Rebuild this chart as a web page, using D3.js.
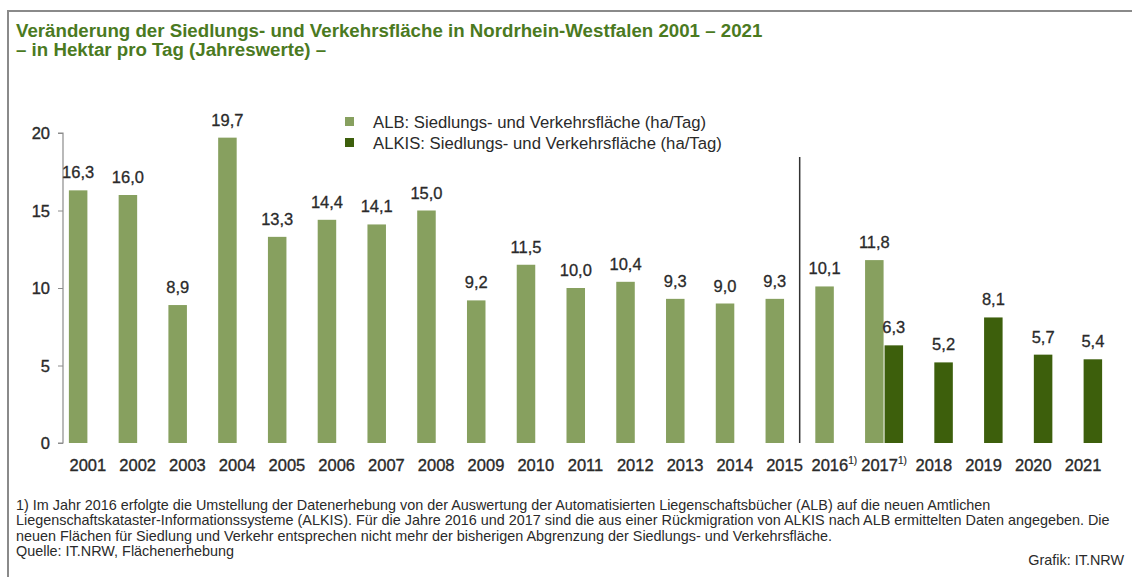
<!DOCTYPE html>
<html><head><meta charset="utf-8">
<script src="https://cdn.jsdelivr.net/npm/d3@7"></script>
<style>
html,body{margin:0;padding:0;background:#fff;}
svg{display:block;font-family:"Liberation Sans",Arial,sans-serif;}
</style></head>
<body>
<svg id="chart" width="1132" height="577"></svg>
<script>
const years = ["2001","2002","2003","2004","2005","2006","2007","2008","2009","2010","2011","2012","2013","2014","2015","2016","2017","2018","2019","2020","2021"];
const albValues = [16.3,16.0,8.9,19.7,13.3,14.4,14.1,15.0,9.2,11.5,10.0,10.4,9.3,9.0,9.3,10.1,11.8,null,null,null,null];
const alkisValues = [null,null,null,null,null,null,null,null,null,null,null,null,null,null,null,null,6.3,5.2,8.1,5.7,5.4];
const seriesKeys = ["ALB","ALKIS"];
const seriesLabels = ["ALB: Siedlungs- und Verkehrsfläche (ha/Tag)","ALKIS: Siedlungs- und Verkehrsfläche (ha/Tag)"];
const seriesColors = ["#87a05f","#3d5f0c"];
const yTicks = [0,5,10,15,20];
const footnotedYears = ["2016","2017"];
const footnoteMark = "1)";
const titleLines = ["Veränderung der Siedlungs- und Verkehrsfläche in Nordrhein-Westfalen 2001 – 2021","– in Hektar pro Tag (Jahreswerte) –"];
const footnoteLines = [
 "1) Im Jahr 2016 erfolgte die Umstellung der Datenerhebung von der Auswertung der Automatisierten Liegenschaftsbücher (ALB) auf die neuen Amtlichen",
 "Liegenschaftskataster-Informationssysteme (ALKIS). Für die Jahre 2016 und 2017 sind die aus einer Rückmigration von ALKIS nach ALB ermittelten Daten angegeben. Die",
 "neuen Flächen für Siedlung und Verkehr entsprechen nicht mehr der bisherigen Abgrenzung der Siedlungs- und Verkehrsfläche.",
 "Quelle: IT.NRW, Flächenerhebung"
];
const credit = "Grafik: IT.NRW";

const svg = d3.select("#chart");
const textColor = "#2a2a2a";

// frame
svg.append("rect").attr("x",8).attr("y",11).attr("width",1140).attr("height",600)
  .attr("fill","none").attr("stroke","#8a8a8a").attr("stroke-width",2);

// title
svg.selectAll("text.title").data(titleLines).join("text").attr("class","title")
  .attr("x",16).attr("y",(d,i)=>37+i*19)
  .attr("font-size",18.7).attr("font-weight","bold").attr("fill","#4b7a1f").text(d=>d);

const x = d3.scaleBand().domain(years).range([63,1108]).padding(0);
const x1 = d3.scaleBand().domain(seriesKeys).range([-19,19]).paddingInner(0.05);
const y = d3.scaleLinear().domain([0,20]).range([443,133]);

// y axis
const yAxis = svg.append("g").attr("transform","translate(63,0)")
  .call(d3.axisLeft(y).tickValues(yTicks).tickSize(5).tickPadding(8).tickFormat(d3.format("d")));
yAxis.select(".domain").attr("stroke","#8c8c8c").attr("stroke-width",1.2).attr("d","M-5,"+y(20)+"H0V"+y(0)+"H-5");
yAxis.selectAll(".tick line").attr("stroke","#8c8c8c");
yAxis.selectAll(".tick text").attr("font-size",16.5).attr("fill",textColor)
  .attr("stroke",textColor).attr("stroke-width",0.35)
  .attr("font-family","Liberation Sans, Arial, sans-serif").attr("dy","0.35em");

// data rows
const rows = years.map((yr,i)=>({year:yr, ALB:albValues[i], ALKIS:alkisValues[i]}));
const fmt = v => d3.format(".1f")(v).replace(".",",");

const groups = svg.append("g").selectAll("g").data(rows).join("g")
  .attr("transform",d=>`translate(${x(d.year)+x.bandwidth()/2},0)`);

seriesKeys.forEach((k,si)=>{
  const sel = groups.filter(d=>d[k]!=null);
  sel.append("rect")
    .attr("x",x1(k)).attr("width",x1.bandwidth())
    .attr("y",d=>y(d[k])).attr("height",d=>y(0)-y(d[k]))
    .attr("fill",seriesColors[si]);
  sel.append("text")
    .attr("x",x1(k)+x1.bandwidth()/2).attr("y",d=>y(d[k])-12)
    .attr("text-anchor","middle").attr("font-size",16.5).attr("fill",textColor)
    .attr("stroke",textColor).attr("stroke-width",0.3)
    .text(d=>fmt(d[k]));
});

// x labels
const xl = svg.append("g").selectAll("text").data(years).join("text")
  .attr("x",d=>x(d)+x.bandwidth()/2).attr("y",471)
  .attr("text-anchor","middle").attr("font-size",16.5).attr("fill",textColor)
  .attr("stroke",textColor).attr("stroke-width",0.35);
xl.append("tspan").text(d=>d);
xl.filter(d=>footnotedYears.includes(d)).append("tspan")
  .attr("font-size",10).attr("dy",-7).attr("stroke-width",0.2).text(footnoteMark);

// separator between 2015 and 2016
const leftEdge = x("2015")+x.bandwidth()/2+x1("ALB")+x1.bandwidth();
const rightEdge = x("2016")+x.bandwidth()/2+x1("ALB");
const sepX = (leftEdge+rightEdge)/2;
svg.append("line").attr("x1",sepX).attr("x2",sepX).attr("y1",157).attr("y2",y(0))
  .attr("stroke","#333").attr("stroke-width",1.5);

// legend
const lg = svg.append("g").selectAll("g").data(seriesKeys).join("g")
  .attr("transform",(d,i)=>`translate(345,${122+i*21})`);
lg.append("rect").attr("x",0).attr("y",-5).attr("width",9).attr("height",9)
  .attr("fill",(d,i)=>seriesColors[i]);
lg.append("text").attr("x",28).attr("y",0).attr("dy","0.35em")
  .attr("font-size",16.7).attr("fill",textColor).text((d,i)=>seriesLabels[i]);

// footnotes
svg.append("g").selectAll("text").data(footnoteLines).join("text")
  .attr("x",16).attr("y",(d,i)=>510+i*15.3)
  .attr("font-size",14.4).attr("fill",textColor).text(d=>d);
svg.append("text").attr("x",1124).attr("y",565).attr("text-anchor","end")
  .attr("font-size",14.4).attr("fill",textColor).text(credit);
</script>
</body></html>
